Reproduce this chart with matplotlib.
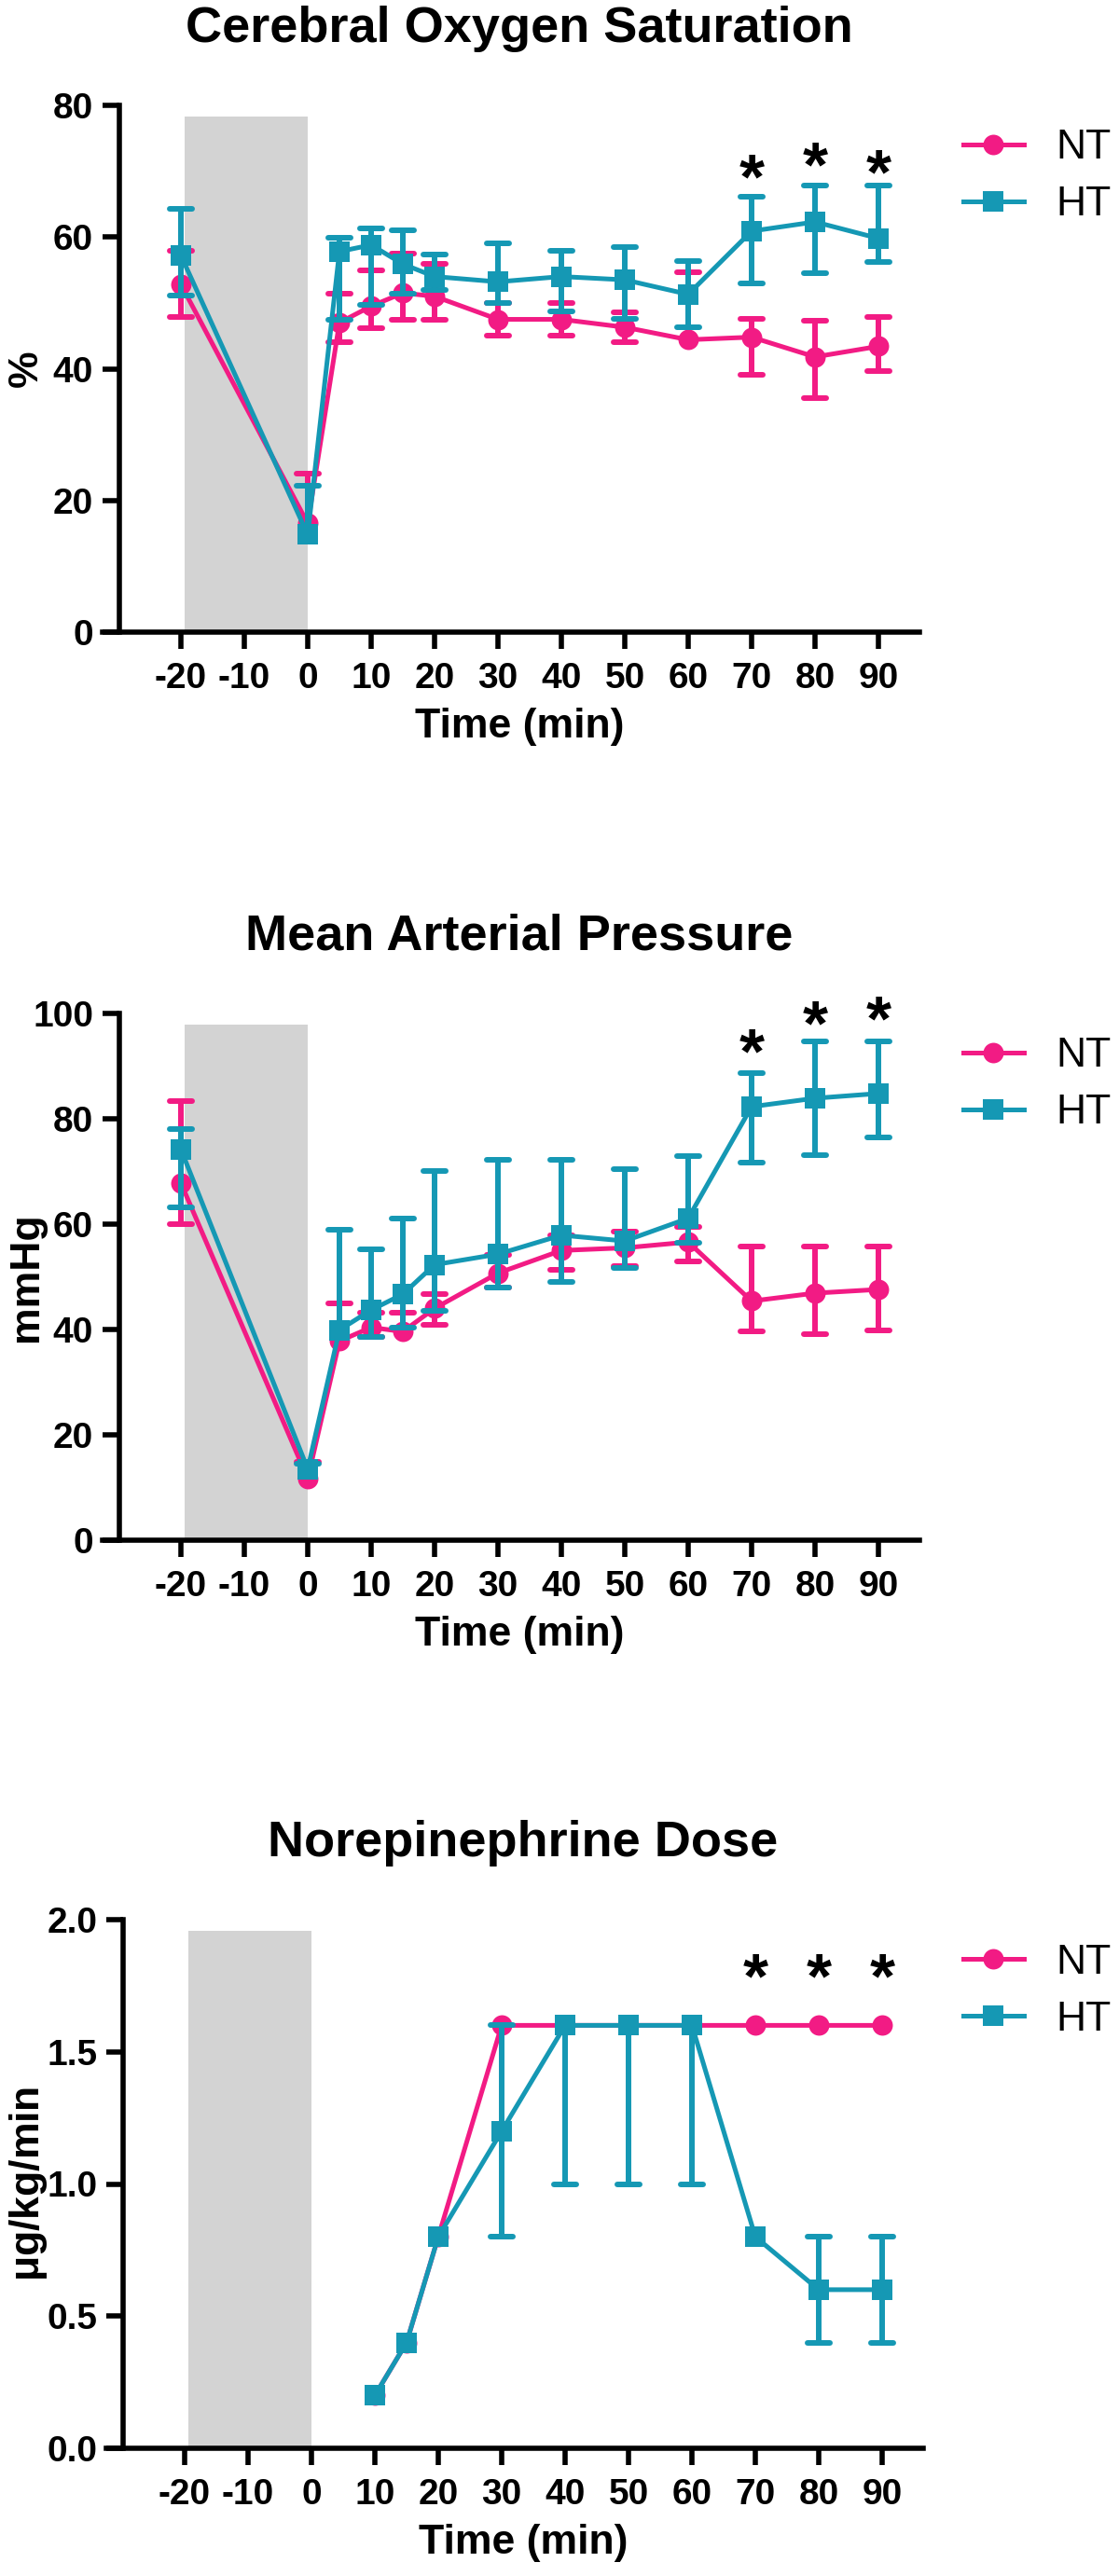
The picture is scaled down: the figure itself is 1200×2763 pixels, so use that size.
import numpy as np
import matplotlib
matplotlib.use("Agg")
import matplotlib.pyplot as plt
from matplotlib.markers import MarkerStyle

plt.rcParams['font.family'] = ['Liberation Sans', 'DejaVu Sans']
plt.rcParams['font.weight'] = 'bold'
plt.rcParams['axes.unicode_minus'] = False
plt.rcParams['mathtext.fontset'] = 'custom'
plt.rcParams['mathtext.rm'] = 'Liberation Sans'

PINK = '#F21B84'
TEAL = '#1598B4'
GRAY = '#D3D3D3'

# ---- data -------------------------------------------------------------
time = [-20, 0, 5, 10, 15, 20, 30, 40, 50, 60, 70, 80, 90]
xticks = [-20, -10, 0, 10, 20, 30, 40, 50, 60, 70, 80, 90]
star_x = [70, 80, 90]

# cerebral oxygen saturation (%)
cos_nt = [52.8, 16.5, 47.0, 49.5, 51.5, 51.0, 47.5, 47.5, 46.3, 44.4, 44.8, 41.8, 43.4]
cos_nt_lo = [47.9, 16.5, 44.1, 46.2, 47.5, 47.4, 45.0, 45.0, 44.1, 44.4, 39.1, 35.5, 39.6]
cos_nt_hi = [57.9, 24.1, 51.4, 55.0, 57.5, 55.9, 50.0, 50.0, 48.5, 54.6, 47.6, 47.3, 47.9]
cos_ht = [57.2, 14.8, 57.8, 58.8, 55.9, 54.0, 53.2, 54.0, 53.5, 51.3, 60.9, 62.3, 59.8]
cos_ht_lo = [51.1, 14.8, 47.4, 49.7, 51.4, 51.9, 50.0, 48.7, 47.6, 46.3, 53.0, 54.5, 56.2]
cos_ht_hi = [64.3, 22.3, 59.9, 61.3, 61.0, 57.3, 59.0, 57.9, 58.5, 56.3, 66.1, 67.8, 67.8]
cos_star_y = [70.4, 72.3, 71.1]

# mean arterial pressure (mmHg)
map_nt = [67.8, 11.7, 37.8, 40.4, 39.6, 44.0, 50.7, 55.0, 55.5, 56.6, 45.4, 46.9, 47.6]
map_nt_lo = [60.0, 11.7, 37.8, 38.6, 39.6, 40.8, 48.0, 51.4, 52.1, 53.0, 39.7, 39.2, 39.9]
map_nt_hi = [83.4, 14.9, 44.9, 43.1, 43.1, 46.8, 54.1, 57.9, 58.6, 59.5, 55.7, 55.7, 55.7]
map_ht = [74.2, 13.5, 39.9, 43.7, 46.7, 52.3, 54.3, 57.9, 56.8, 61.1, 82.3, 83.9, 84.8]
map_ht_lo = [63.2, 13.5, 39.9, 38.6, 40.4, 43.5, 48.0, 49.1, 51.6, 56.4, 71.7, 73.1, 76.5]
map_ht_hi = [78.1, 14.5, 58.9, 55.2, 61.1, 70.1, 72.2, 72.2, 70.5, 73.0, 88.7, 94.7, 94.7]
map_star_y = [94.5, 99.8, 100.7]

# norepinephrine dose (ug/kg/min)
time_ne = [10, 15, 20, 30, 40, 50, 60, 70, 80, 90]
ne_nt = [0.2, 0.4, 0.8, 1.6, 1.6, 1.6, 1.6, 1.6, 1.6, 1.6]
ne_ht = [0.2, 0.4, 0.8, 1.2, 1.6, 1.6, 1.6, 0.8, 0.6, 0.6]
ne_ht_lo = [0.2, 0.4, 0.8, 0.8, 1.0, 1.0, 1.0, 0.8, 0.4, 0.4]
ne_ht_hi = [0.2, 0.4, 0.8, 1.6, 1.6, 1.6, 1.6, 0.8, 0.8, 0.8]
ne_star_y = [1.82, 1.82, 1.82]

panels = [
    dict(title='Cerebral Oxygen Saturation', ylabel='%', ylim=(0, 80), yticks=[0, 20, 40, 60, 80],
         fmt='{:.0f}', x=time, nt=(cos_nt, cos_nt_lo, cos_nt_hi), ht=(cos_ht, cos_ht_lo, cos_ht_hi),
         stars=cos_star_y, top=113, bottom=678, left=128),
    dict(title='Mean Arterial Pressure', ylabel='mmHg', ylim=(0, 100), yticks=[0, 20, 40, 60, 80, 100],
         fmt='{:.0f}', x=time, nt=(map_nt, map_nt_lo, map_nt_hi), ht=(map_ht, map_ht_lo, map_ht_hi),
         stars=map_star_y, top=1087, bottom=1652, left=128),
    dict(title='Norepinephrine Dose', ylabel=r'$\mathrm{\mu}$g/kg/min', ylim=(0, 2.0),
         yticks=[0.0, 0.5, 1.0, 1.5, 2.0], fmt='{:.1f}', x=time_ne,
         nt=(ne_nt, ne_nt, ne_nt), ht=(ne_ht, ne_ht_lo, ne_ht_hi),
         stars=ne_star_y, top=2059, bottom=2626, left=132),
]

W, H = 1200, 2763
fig = plt.figure(figsize=(W / 100, H / 100), dpi=100)

cap_marker = MarkerStyle('_', capstyle='round')


def err_bars(ax, x, mean, lo, hi, color, z):
    bx, blo, bhi, cx, cy = [], [], [], [], []
    for xi, m, l, h in zip(x, mean, lo, hi):
        if h > m or l < m:
            bx.append(xi)
            blo.append(min(l, m))
            bhi.append(max(h, m))
        if h > m:
            cx.append(xi)
            cy.append(h)
        if l < m:
            cx.append(xi)
            cy.append(l)
    ax.vlines(bx, blo, bhi, colors=color, linewidth=4.3, zorder=z, clip_on=False)
    ax.plot(cx, cy, ls='none', marker=cap_marker, markersize=17, markeredgewidth=4.3,
            color=color, zorder=z, clip_on=False)


for p in panels:
    # axes box in pixels: 0-tick sits 202 px right of the y axis, 68 px per 10 min
    zero_px = p['left'] + 202
    x0 = (p['left'] - zero_px) / 6.8
    x1 = (p['left'] + 858 - zero_px) / 6.8
    ax = fig.add_axes([p['left'] / W, (H - p['bottom']) / H, 858 / W, (p['bottom'] - p['top']) / H])
    ax.set_xlim(x0, x1)
    ax.set_ylim(*p['ylim'])

    ax.axvspan(-19.4, 0, ymin=0, ymax=0.979, color=GRAY, lw=0, zorder=0)

    x = p['x']
    m, lo, hi = p['nt']
    err_bars(ax, x, m, lo, hi, PINK, 2)
    ln_nt, = ax.plot(x, m, color=PINK, lw=3.6, marker='o', ms=15.8, mew=0, zorder=3,
                     clip_on=False, label='NT')
    m, lo, hi = p['ht']
    err_bars(ax, x, m, lo, hi, TEAL, 4)
    ln_ht, = ax.plot(x, m, color=TEAL, lw=3.6, marker='s', ms=16.5, mew=0, zorder=5,
                     clip_on=False, label='HT')

    for sx, sy in zip(star_x, p['stars']):
        ax.annotate('*', (sx, sy), xytext=(0, -10), textcoords='offset points',
                    fontsize=50, fontweight='bold', ha='center', va='center', color='black',
                    annotation_clip=False)

    ax.spines['top'].set_visible(False)
    ax.spines['right'].set_visible(False)
    ax.spines['left'].set_linewidth(4)
    ax.spines['bottom'].set_linewidth(4)
    ax.spines['bottom'].set_bounds(x0 - 18 / 6.8, x1)
    ax.set_xticks(xticks)
    ax.set_xticklabels([str(t) for t in xticks])
    ax.set_yticks(p['yticks'])
    ax.set_yticklabels([p['fmt'].format(t) for t in p['yticks']])
    ax.tick_params(axis='both', length=13, width=4, labelsize=28, colors='black')
    ax.tick_params(axis='x', pad=10)
    ax.tick_params(axis='y', pad=7)

    ax.set_title(p['title'], fontsize=39, fontweight='bold', pad=49)
    ax.set_xlabel('Time (min)', fontsize=32, fontweight='bold')
    ax.xaxis.set_label_coords(0.5, -81 / 565)
    ax.set_ylabel(p['ylabel'], fontsize=32, fontweight='bold')
    ax.yaxis.set_label_coords(-0.092, 0.5)

    ax.legend(handles=[ln_nt, ln_ht], loc='upper left', bbox_to_anchor=((1033 - p['left']) / 858, 0.955),
              frameon=False, borderpad=0, borderaxespad=0, handlelength=1.46, handletextpad=0.77,
              labelspacing=0.45, prop={'size': 32, 'weight': 'normal'})

fig.savefig('out.png', dpi=100)
